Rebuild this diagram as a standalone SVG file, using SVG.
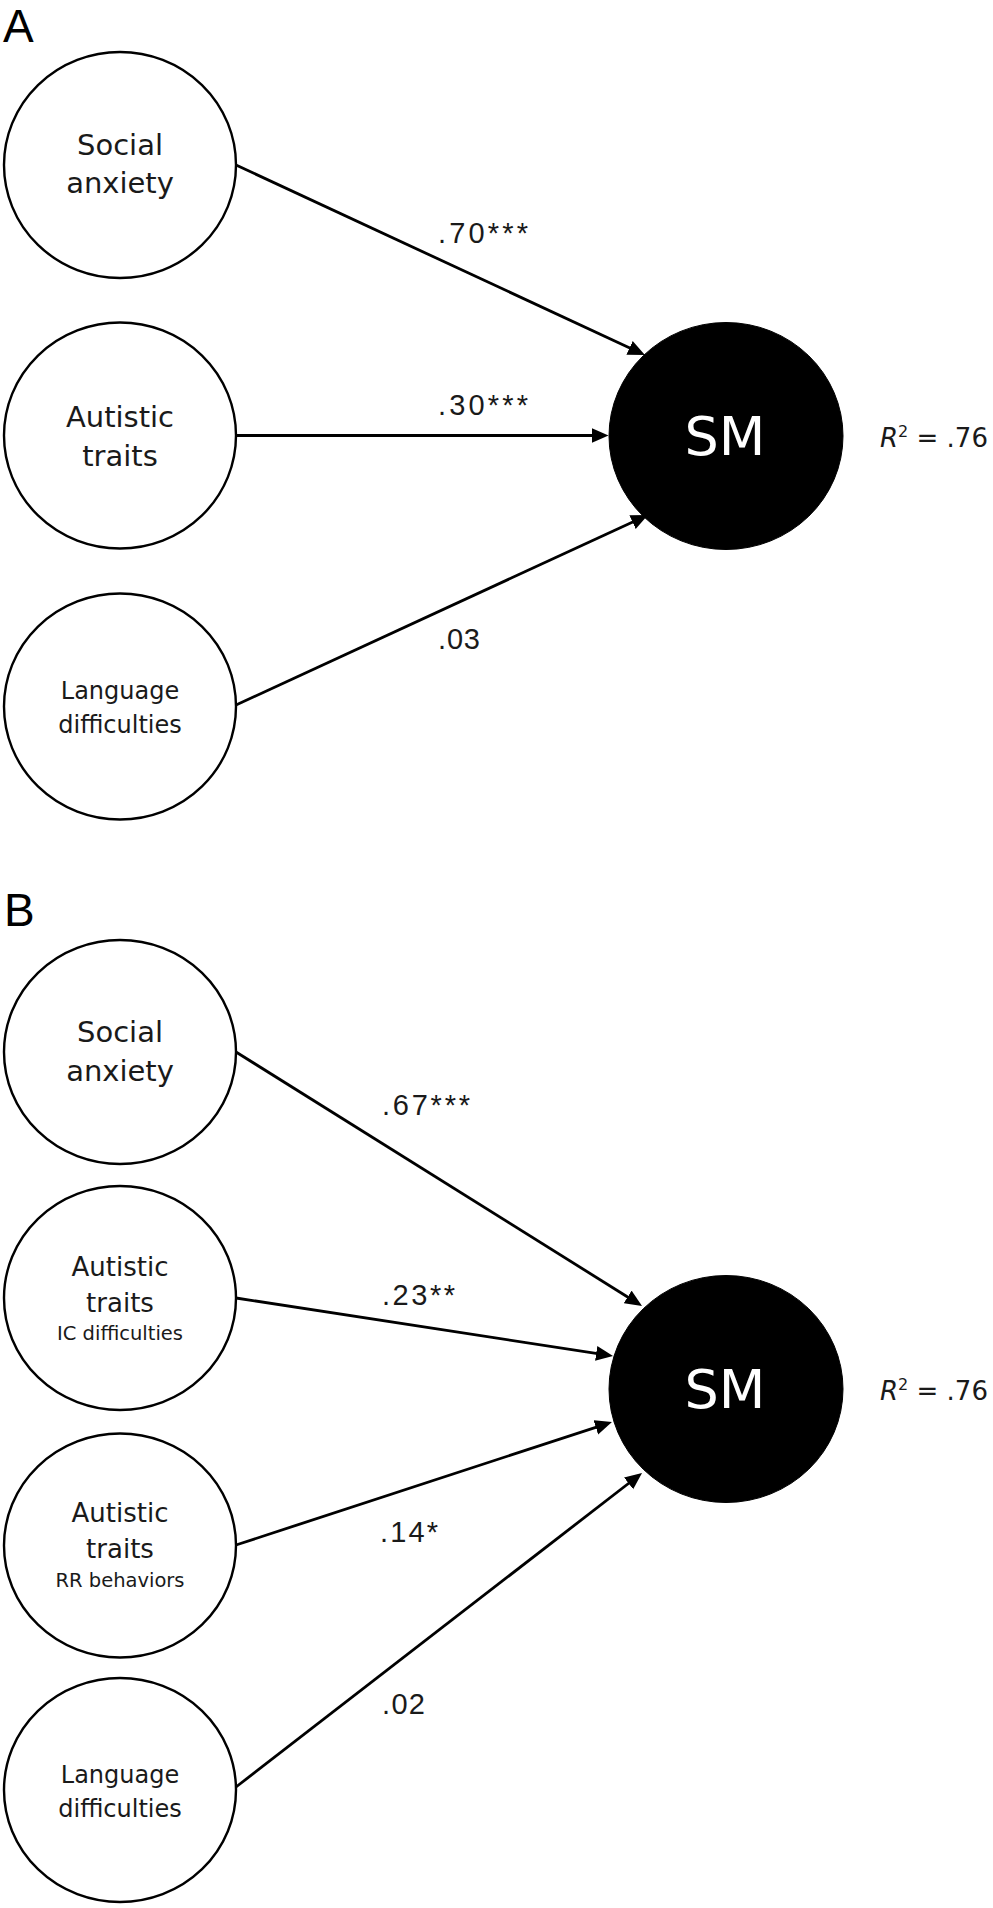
<svg xmlns="http://www.w3.org/2000/svg" width="993" height="1908" viewBox="0 0 993 1908">
<style>
.bg{fill:#ffffff}
.node{fill:#ffffff;stroke:#000000;stroke-width:2.4}
.dep{fill:#000000;stroke:#000000;stroke-width:1}
.nt{font-family:"DejaVu Sans",sans-serif;fill:#1a1a1a;text-anchor:middle}
.sm{font-family:"DejaVu Sans",sans-serif;fill:#ffffff;text-anchor:middle;font-size:54px}
.r2{font-family:"DejaVu Sans",sans-serif;fill:#1a1a1a;font-size:26px}
.title{font-family:"Liberation Sans",Arial,sans-serif;fill:#000000;font-size:46px}
.lbl{font-family:"Liberation Sans",Arial,sans-serif;fill:#1a1a1a;font-size:29px}
.edge{stroke:#000000;stroke-width:2.8;fill:none;marker-end:url(#arr)}
</style>
<defs>
<marker id="arr" markerUnits="userSpaceOnUse" markerWidth="18" markerHeight="16" refX="8" refY="8" orient="auto">
<path d="M0,0.5 L17,8 L0,15.5 z" fill="#000000"/>
</marker>
</defs>
<rect class="bg" x="0" y="0" width="993" height="1908"/>

<text class="title" x="3" y="42">A</text>
<text class="title" x="4" y="926">B</text>

<g id="connectors">
<line class="edge" x1="236" y1="165" x2="636.8" y2="351.2"/>
<line class="edge" x1="236" y1="435.5" x2="599.5" y2="435.5"/>
<line class="edge" x1="236" y1="705" x2="639.8" y2="518.8"/>
<line class="edge" x1="236" y1="1052" x2="634.4" y2="1301.2"/>
<line class="edge" x1="236" y1="1298" x2="604.1" y2="1354.6"/>
<line class="edge" x1="236" y1="1545" x2="603.4" y2="1424.8"/>
<line class="edge" x1="236" y1="1787" x2="634.9" y2="1478.5"/>
<text class="lbl" x="438" y="243" textLength="90" lengthAdjust="spacing">.70***</text>
<text class="lbl" x="438" y="415" textLength="90" lengthAdjust="spacing">.30***</text>
<text class="lbl" x="438" y="649" textLength="42" lengthAdjust="spacing">.03</text>
<text class="lbl" x="382" y="1115" textLength="88" lengthAdjust="spacing">.67***</text>
<text class="lbl" x="382" y="1305" textLength="73" lengthAdjust="spacing">.23**</text>
<text class="lbl" x="380" y="1542" textLength="58" lengthAdjust="spacing">.14*</text>
<text class="lbl" x="382" y="1714" textLength="43" lengthAdjust="spacing">.02</text>
</g>

<g id="a-social-anxiety">
<ellipse class="node" cx="120" cy="165" rx="116" ry="113"/>
<text class="nt" x="120" y="155" font-size="29">Social</text>
<text class="nt" x="120" y="193" font-size="29">anxiety</text>
</g>
<g id="a-autistic-traits">
<ellipse class="node" cx="120" cy="435.5" rx="116" ry="113"/>
<text class="nt" x="120" y="427" font-size="29">Autistic</text>
<text class="nt" x="120" y="466" font-size="29">traits</text>
</g>
<g id="a-language-difficulties">
<ellipse class="node" cx="120" cy="706.5" rx="116" ry="113"/>
<text class="nt" x="120" y="699" font-size="24">Language</text>
<text class="nt" x="120" y="733" font-size="24">difficulties</text>
</g>
<g id="a-sm">
<ellipse class="dep" cx="726" cy="436" rx="117" ry="113.5"/>
<text class="sm" x="725" y="455">SM</text>
<text class="r2" x="880" y="447"><tspan font-style="italic">R</tspan><tspan font-size="16" dy="-10">2</tspan><tspan dy="10"> = .76</tspan></text>
</g>

<g id="b-social-anxiety">
<ellipse class="node" cx="120" cy="1052" rx="116" ry="112"/>
<text class="nt" x="120" y="1042" font-size="29">Social</text>
<text class="nt" x="120" y="1081" font-size="29">anxiety</text>
</g>
<g id="b-autistic-ic">
<ellipse class="node" cx="120" cy="1298" rx="116" ry="112"/>
<text class="nt" x="120" y="1276" font-size="26">Autistic</text>
<text class="nt" x="120" y="1312" font-size="26">traits</text>
<text class="nt" x="120" y="1340" font-size="19.5">IC difficulties</text>
</g>
<g id="b-autistic-rr">
<ellipse class="node" cx="120" cy="1545.5" rx="116" ry="112"/>
<text class="nt" x="120" y="1522" font-size="26">Autistic</text>
<text class="nt" x="120" y="1558" font-size="26">traits</text>
<text class="nt" x="120" y="1587" font-size="19.5">RR behaviors</text>
</g>
<g id="b-language-difficulties">
<ellipse class="node" cx="120" cy="1790" rx="116" ry="112"/>
<text class="nt" x="120" y="1783" font-size="24">Language</text>
<text class="nt" x="120" y="1817" font-size="24">difficulties</text>
</g>
<g id="b-sm">
<ellipse class="dep" cx="726" cy="1389" rx="117" ry="113.5"/>
<text class="sm" x="725" y="1408">SM</text>
<text class="r2" x="880" y="1400"><tspan font-style="italic">R</tspan><tspan font-size="16" dy="-10">2</tspan><tspan dy="10"> = .76</tspan></text>
</g>
</svg>
